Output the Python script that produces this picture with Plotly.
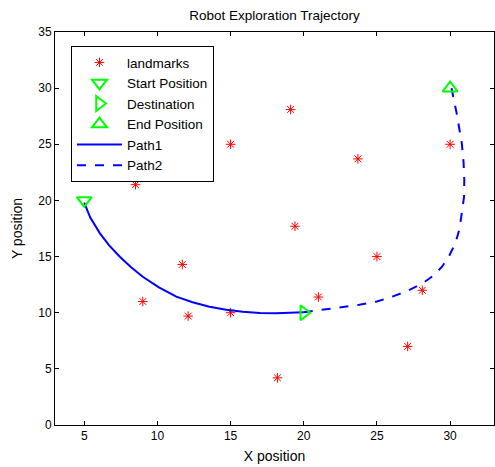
import plotly.graph_objects as go

landmark_x = [19.1, 15.0, 30.0, 23.7, 8.5, 19.4, 25.0, 11.7, 9.0, 28.1, 21.0, 12.1, 15.0, 27.1, 18.2]
landmark_y = [28.1, 25.0, 25.0, 23.7, 21.4, 17.7, 15.0, 14.3, 11.0, 12.0, 11.4, 9.7, 10.0, 7.0, 4.2]

start_pos = ([5], [20])
dest_pos = ([20], [10])
end_pos = ([30], [30])

path1_x = [5.0, 5.4, 6.07, 6.7, 7.43, 8.2, 9.0, 10.1, 11.29, 12.4, 13.56, 14.7, 15.83, 17.0, 18.1, 19.1, 20.0]
path1_y = [19.8, 18.5, 17.07, 16.0, 14.99, 14.05, 13.2, 12.25, 11.43, 10.93, 10.53, 10.26, 10.09, 9.98, 9.95, 9.98, 10.05]

path2_x = [20.0, 21.2, 22.5, 23.8, 25.0, 26.05, 27.1, 28.1, 28.85, 29.45, 29.95, 30.36, 30.65, 30.8, 30.95, 30.97, 30.92, 30.8, 30.65, 30.45, 30.25, 30.1]
path2_y = [10.05, 10.25, 10.45, 10.7, 11.0, 11.43, 11.95, 12.6, 13.3, 14.1, 15.1, 16.18, 17.5, 18.85, 20.3, 21.8, 23.4, 25.08, 26.4, 27.75, 29.0, 30.0]

FONT = "Liberation Sans, Arial"

fig = go.Figure()
fig.add_trace(go.Scatter(x=landmark_x, y=landmark_y, mode="markers", name="landmarks",
                         marker=dict(symbol="asterisk-open", size=8, color="#ff0000",
                                     line=dict(color="#ff0000", width=1))))
fig.add_trace(go.Scatter(x=path1_x, y=path1_y, mode="lines", name="Path1", showlegend=False,
                         line=dict(color="#0000ff", width=2)))
fig.add_trace(go.Scatter(x=path2_x, y=path2_y, mode="lines", name="Path2", showlegend=False,
                         line=dict(color="#0000ff", width=2, dash="dash")))
fig.add_trace(go.Scatter(x=start_pos[0], y=start_pos[1], mode="markers", name="Start Position",
                         marker=dict(symbol="triangle-down-open", size=13, color="#00ff00",
                                     line=dict(color="#00ff00", width=2))))
fig.add_trace(go.Scatter(x=dest_pos[0], y=dest_pos[1], mode="markers", name="Destination",
                         marker=dict(symbol="triangle-right-open", size=13, color="#00ff00",
                                     line=dict(color="#00ff00", width=2))))
fig.add_trace(go.Scatter(x=end_pos[0], y=end_pos[1], mode="markers", name="End Position",
                         marker=dict(symbol="triangle-up-open", size=13, color="#00ff00",
                                     line=dict(color="#00ff00", width=2))))
fig.add_trace(go.Scatter(x=[None], y=[None], mode="lines", name="Path1",
                         line=dict(color="#0000ff", width=2)))
fig.add_trace(go.Scatter(x=[None], y=[None], mode="lines", name="Path2",
                         line=dict(color="#0000ff", width=2, dash="dash")))

axis_common = dict(showgrid=False, zeroline=False, showline=True, linecolor="black", linewidth=1,
                   mirror="ticks", ticks="inside", ticklen=4, tickcolor="black", automargin=False,
                   tickfont=dict(family=FONT, size=12, color="black"))

fig.update_layout(
    width=495, height=467,
    paper_bgcolor="white", plot_bgcolor="white",
    margin=dict(l=55, r=1, t=32, b=42),
    title=dict(text="Robot Exploration Trajectory", xref="paper", x=0.5, xanchor="center",
               y=0.968, yanchor="middle",
               font=dict(family=FONT, size=13.5, color="black")),
    xaxis=dict(range=[3, 33], tickvals=[5, 10, 15, 20, 25, 30],
               title=dict(text="X position", standoff=8, font=dict(family=FONT, size=14, color="black")),
               **axis_common),
    yaxis=dict(range=[0, 35], tickvals=[0, 5, 10, 15, 20, 25, 30, 35],
               title=dict(text="Y position", standoff=12, font=dict(family=FONT, size=14, color="black")),
               **axis_common),
    legend=dict(x=0.0364, y=0.964, xanchor="left", yanchor="top",
                bgcolor="white", bordercolor="black", borderwidth=1,
                itemwidth=45, tracegroupgap=0,
                font=dict(family=FONT, size=13.5, color="black")),
    showlegend=True,
)

fig.write_html("out.html", config={"displayModeBar": False},
               post_script="document.body.style.margin='0px';")
